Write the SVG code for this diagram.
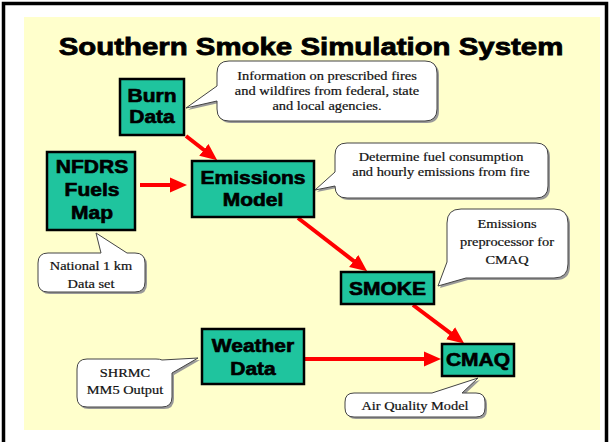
<svg xmlns="http://www.w3.org/2000/svg" width="610" height="442" viewBox="0 0 610 442">
<style>
.bg{fill:#FFFFCC}
.frame{fill:none;stroke:#000;stroke-width:3.5}
.box{fill:#1FC49E;stroke:#000;stroke-width:2.5}
.bt{font-family:"Liberation Sans",Arial,sans-serif;font-weight:bold;font-size:17.5px;fill:#000;stroke:#000;stroke-width:0.6;text-anchor:middle}
.title{font-family:"Liberation Sans",Arial,sans-serif;font-weight:bold;font-size:24.5px;fill:#000;stroke:#000;stroke-width:0.8;text-anchor:middle}
.bub{fill:#fff;stroke:#444;stroke-width:1}
.sh{fill:#999;stroke:none}
.ct{font-family:"Liberation Serif","Times New Roman",serif;font-size:12px;fill:#111;stroke:#111;stroke-width:0.2;text-anchor:middle}
.arr{fill:none;stroke:#FF0000;stroke-width:4}
</style>
<defs>
<marker id="ah" viewBox="0 -8 17 16" markerWidth="17" markerHeight="16" refX="1" refY="0" orient="auto" markerUnits="userSpaceOnUse">
<path d="M0,-7.5 L17,0 L0,7.5 Z" fill="#FF0000"/>
</marker>
<path id="b1" d="M229,61 H425 Q437,61 437,73 V109 Q437,121 425,121 H229 Q217,121 217,109 V101 L186,108 L217,86 V73 Q217,61 229,61 Z"/>
<path id="b2" d="M347,143 H536 Q548,143 548,155 V186 Q548,198 536,198 H347 Q335,198 335,186 L315,190 L335,172 V155 Q335,143 347,143 Z"/>
<path id="b3" d="M461,209 H554 Q568,209 568,223 V264 Q568,278 554,278 H466 L438,286 L447,262 V223 Q447,209 461,209 Z"/>
<path id="b4" d="M48,253 H101 L96,233 L127,253 H135 Q145,253 145,263 V282 Q145,292 135,292 H48 Q38,292 38,282 V263 Q38,253 48,253 Z"/>
<path id="b5" d="M87,359 H156 Q160,359 162,360 L198,358 L172,373 V397 Q172,407 162,407 H87 Q77,407 77,397 V369 Q77,359 87,359 Z"/>
<path id="b6" d="M354,393 H432 L478,378 L462,393 H476 Q485,393 485,402 V408 Q485,417 476,417 H354 Q345,417 345,408 V402 Q345,393 354,393 Z"/>
</defs>

<rect x="0" y="0" width="610" height="442" fill="#fff"/>
<rect class="frame" x="3.5" y="3.5" width="603" height="460"/>
<rect class="bg" x="24" y="17" width="576" height="413"/>

<text class="title" transform="translate(311,54.5) scale(1.2,1)">Southern Smoke Simulation System</text>

<g id="connectors">
<path class="arr" d="M186,136 L204.6,150.5" marker-end="url(#ah)"/>
<path class="arr" d="M140,185 L171,185" marker-end="url(#ah)"/>
<path class="arr" d="M298,218 L354.5,261.6" marker-end="url(#ah)"/>
<path class="arr" d="M413,305 L451.4,333.8" marker-end="url(#ah)"/>
<path class="arr" d="M305,359 L425,359" marker-end="url(#ah)"/>
</g>

<g id="burn-data">
<rect class="box" x="120" y="79" width="64" height="56"/>
<text class="bt" transform="translate(152,101.5) scale(1.2,1)">Burn</text>
<text class="bt" transform="translate(152,123) scale(1.2,1)">Data</text>
</g>

<g id="nfdrs-fuels-map">
<rect class="box" x="47" y="152" width="88" height="78"/>
<text class="bt" transform="translate(92,173) scale(1.2,1)">NFDRS</text>
<text class="bt" transform="translate(92,196) scale(1.2,1)">Fuels</text>
<text class="bt" transform="translate(92,218.5) scale(1.2,1)">Map</text>
</g>

<g id="emissions-model">
<rect class="box" x="192" y="161" width="122" height="56"/>
<text class="bt" transform="translate(253,184) scale(1.2,1)">Emissions</text>
<text class="bt" transform="translate(253,206) scale(1.2,1)">Model</text>
</g>

<g id="smoke">
<rect class="box" x="341" y="272" width="93" height="32"/>
<text class="bt" transform="translate(387.5,294.5) scale(1.2,1)">SMOKE</text>
</g>

<g id="weather-data">
<rect class="box" x="202" y="329" width="102" height="55"/>
<text class="bt" transform="translate(253,351.5) scale(1.2,1)">Weather</text>
<text class="bt" transform="translate(253,375) scale(1.2,1)">Data</text>
</g>

<g id="cmaq">
<rect class="box" x="442" y="344" width="72" height="32"/>
<text class="bt" transform="translate(478,366) scale(1.2,1)">CMAQ</text>
</g>

<g id="callout-burn">
<use href="#b1" class="sh" transform="translate(2,2)"/>
<use href="#b1" class="bub"/>
<text class="ct" transform="translate(327,80) scale(1.2,1)">Information on prescribed fires</text>
<text class="ct" transform="translate(327,95) scale(1.2,1)">and wildfires from federal, state</text>
<text class="ct" transform="translate(327,110) scale(1.2,1)">and local agencies.</text>
</g>

<g id="callout-emissions">
<use href="#b2" class="sh" transform="translate(2,2)"/>
<use href="#b2" class="bub"/>
<text class="ct" transform="translate(441,161) scale(1.2,1)">Determine fuel consumption</text>
<text class="ct" transform="translate(441,176) scale(1.2,1)">and hourly emissions from fire</text>
</g>

<g id="callout-smoke">
<use href="#b3" class="sh" transform="translate(2,2)"/>
<use href="#b3" class="bub"/>
<text class="ct" transform="translate(507,228) scale(1.2,1)">Emissions</text>
<text class="ct" transform="translate(507,246) scale(1.2,1)">preprocessor for</text>
<text class="ct" transform="translate(507,264) scale(1.2,1)">CMAQ</text>
</g>

<g id="callout-nfdrs">
<use href="#b4" class="sh" transform="translate(2,2)"/>
<use href="#b4" class="bub"/>
<text class="ct" transform="translate(91,270) scale(1.2,1)">National 1 km</text>
<text class="ct" transform="translate(91,288) scale(1.2,1)">Data set</text>
</g>

<g id="callout-weather">
<use href="#b5" class="sh" transform="translate(2,2)"/>
<use href="#b5" class="bub"/>
<text class="ct" transform="translate(125,377) scale(1.2,1)">SHRMC</text>
<text class="ct" transform="translate(125,394) scale(1.2,1)">MM5 Output</text>
</g>

<g id="callout-cmaq">
<use href="#b6" class="sh" transform="translate(2,2)"/>
<use href="#b6" class="bub"/>
<text class="ct" transform="translate(415,410) scale(1.2,1)">Air Quality Model</text>
</g>
</svg>
